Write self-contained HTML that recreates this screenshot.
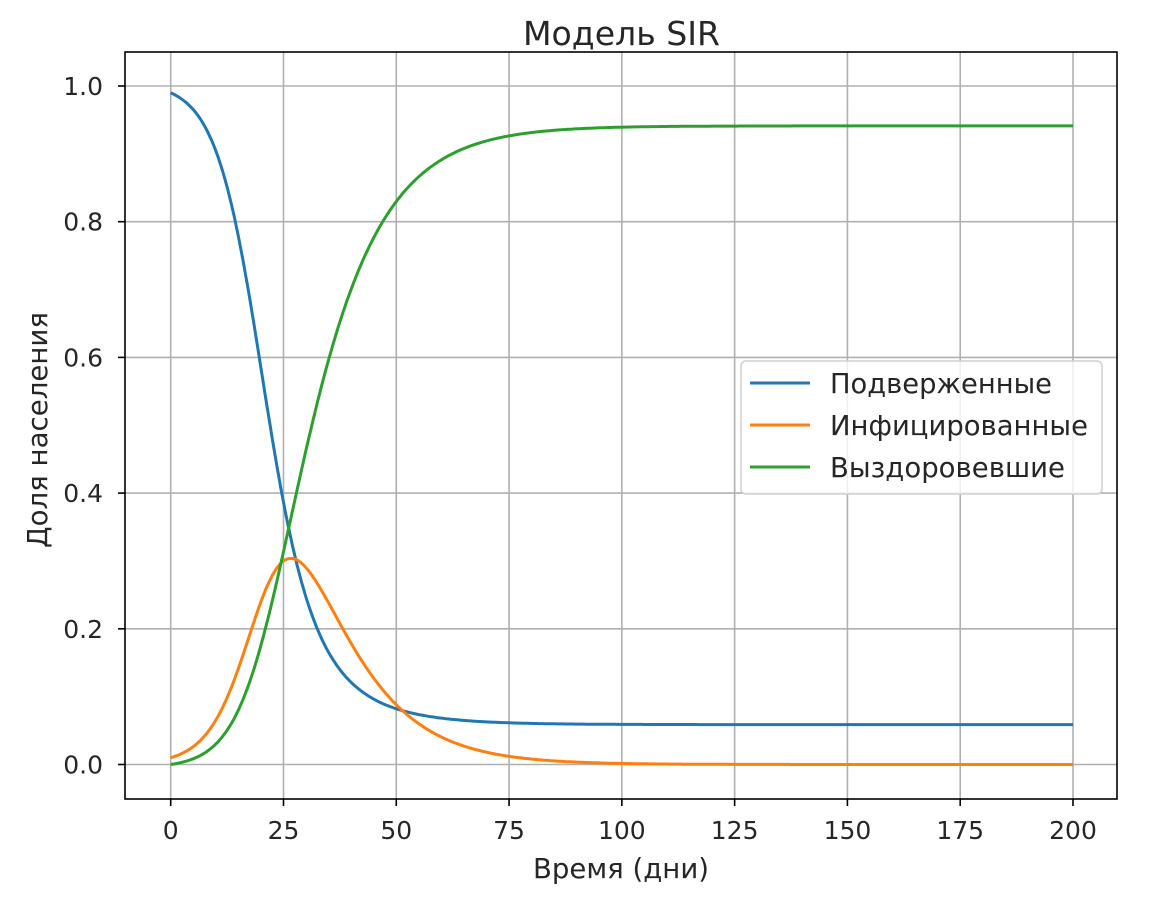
<!DOCTYPE html>
<html><head><meta charset="utf-8"><style>
html,body{margin:0;padding:0;background:#fff;}
svg text{font-family:"DejaVu Sans","Liberation Sans",sans-serif;fill:#262626;}
</style></head><body>
<svg id="s" width="1175" height="916" xmlns="http://www.w3.org/2000/svg">
<rect width="1175" height="916" fill="#fff"/>
<g id="grid" stroke="#b0b0b0" stroke-width="1.6"></g>
<g id="curves" fill="none" stroke-width="3"></g>
<rect x="125" y="52" width="992" height="747" fill="none" stroke="#000" stroke-width="1.6"/>
<g id="ticks" stroke="#000" stroke-width="1.6"></g>
<g id="labels" font-size="25"></g>
<text x="523" y="45" font-size="33" textLength="197" lengthAdjust="spacingAndGlyphs">Модель SIR</text>
<text x="533" y="878" font-size="28" textLength="176" lengthAdjust="spacingAndGlyphs">Время (дни)</text>
<text x="0" y="0" font-size="28" textLength="236" lengthAdjust="spacingAndGlyphs" transform="translate(47,548) rotate(-90)">Доля населения</text>
<rect x="741" y="361" width="361" height="133" rx="5" fill="#fff" fill-opacity="0.8" stroke="#d0d0d0" stroke-width="1.5"/>
<line x1="750" y1="383" x2="810" y2="383" stroke="#1f77b4" stroke-width="3"/>
<line x1="750" y1="425" x2="810" y2="425" stroke="#ff7f0e" stroke-width="3"/>
<line x1="750" y1="467" x2="810" y2="467" stroke="#2ca02c" stroke-width="3"/>
<text x="830" y="393" font-size="27.5" textLength="222" lengthAdjust="spacingAndGlyphs">Подверженные</text>
<text x="830" y="435" font-size="27.5" textLength="258" lengthAdjust="spacingAndGlyphs">Инфицированные</text>
<text x="830" y="477" font-size="27.5" textLength="235" lengthAdjust="spacingAndGlyphs">Выздоровевшие</text>
</svg>
<script>
var NS="http://www.w3.org/2000/svg";
function X(t){return 170.7+t*4.5115;}
function Y(v){return 764.5-v*678.5;}
function el(p,n,a,txt){var e=document.createElementNS(NS,n);for(var k in a)e.setAttribute(k,a[k]);if(txt!=null)e.textContent=txt;document.getElementById(p).appendChild(e);return e;}
for(var t=0;t<=200;t+=25){var x=X(t);el("grid","line",{x1:x,x2:x,y1:52,y2:799});el("ticks","line",{x1:x,x2:x,y1:799,y2:806});el("labels","text",{x:x,y:839,"text-anchor":"middle"},String(t));}
for(var i=0;i<=5;i++){var v=i*0.2,y=Y(v);el("grid","line",{x1:125,x2:1117,y1:y,y2:y});el("ticks","line",{x1:118,x2:125,y1:y,y2:y});el("labels","text",{x:103,y:y+9,"text-anchor":"end"},v.toFixed(1));}
var b=0.3,g=0.1,S=0.99,I=0.01,R=0,dt=0.05,ps=[],pi=[],pr=[];
function f(s,i){return [-b*s*i,b*s*i-g*i];}
for(var n=0;n<=4000;n++){var tt=n*dt;if(n%10==0){ps.push(X(tt).toFixed(1)+","+Y(S).toFixed(1));pi.push(X(tt).toFixed(1)+","+Y(I).toFixed(1));pr.push(X(tt).toFixed(1)+","+Y(R).toFixed(1));}
var k1=f(S,I),k2=f(S+dt/2*k1[0],I+dt/2*k1[1]),k3=f(S+dt/2*k2[0],I+dt/2*k2[1]),k4=f(S+dt*k3[0],I+dt*k3[1]);
S+=dt/6*(k1[0]+2*k2[0]+2*k3[0]+k4[0]);I+=dt/6*(k1[1]+2*k2[1]+2*k3[1]+k4[1]);R=1-S-I;}
el("curves","polyline",{points:ps.join(" "),stroke:"#1f77b4"});
el("curves","polyline",{points:pi.join(" "),stroke:"#ff7f0e"});
el("curves","polyline",{points:pr.join(" "),stroke:"#2ca02c"});
</script>
</body></html>
